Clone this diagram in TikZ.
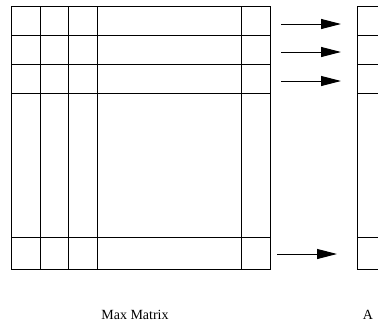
\documentclass[tikz,border=0pt]{standalone}
\usepackage{fontspec}
\setmainfont{Liberation Serif}
\usetikzlibrary{arrows.meta}
\tikzset{
	gridline/.style={
		line width=1pt,
		line cap=rect
	},
	rowarrow/.style={
		line width=1pt,
		-{Triangle[length=20pt,width=10pt]}
	},
	caption/.style={
		font=\fontsize{14}{16}\selectfont,
		anchor=base
	}
}

\begin{document}
\begin{tikzpicture}[x=1pt,y=-1pt]
			\useasboundingbox (0,0) rectangle (378,325);
			
			% Max matrix
			\draw[gridline] (11,6) rectangle (270,269);
			\foreach \x in {40,68,97,241} \draw[gridline] (\x,6) -- (\x,269);
			\foreach \y in {35,64,93,237} \draw[gridline] (11,\y) -- (270,\y);
			
			% A, cut off at the right edge
			\draw[gridline] (378,6) -- (357,6) -- (357,269) -- (378,269);
			\foreach \y in {35,64,93,237} \draw[gridline] (357,\y) -- (378,\y);
			
			\coordinate (RowOneStart) at (281,24);
			\coordinate (RowOneEnd) at (341,24);
			\coordinate (RowTwoStart) at (281,52);
			\coordinate (RowTwoEnd) at (341,52);
			\coordinate (RowThreeStart) at (281,81);
			\coordinate (RowThreeEnd) at (341,81);
			\coordinate (RowLastStart) at (277,254);
			\coordinate (RowLastEnd) at (337,254);
			
			\draw[rowarrow] (RowOneStart) -- (RowOneEnd);
			\draw[rowarrow] (RowTwoStart) -- (RowTwoEnd);
			\draw[rowarrow] (RowThreeStart) -- (RowThreeEnd);
			\draw[rowarrow] (RowLastStart) -- (RowLastEnd);
			
			\draw node[caption] (MaxLabel) at (135,319) {Max Matrix};
			\draw node[caption] (ALabel) at (368,319) {A};
		\end{tikzpicture}
\end{document}
